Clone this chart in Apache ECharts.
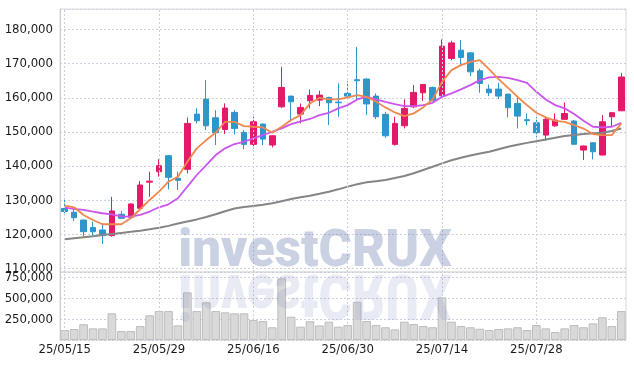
<!DOCTYPE html>
<html><head><meta charset="utf-8">
<script src="https://cdn.jsdelivr.net/npm/echarts@6/dist/echarts.min.js"></script>
<style>html,body{margin:0;padding:0;background:#fff}#c{width:634px;height:366px}</style>
</head><body><div id="c"></div>
<script>
const dates = ['25/05/15','25/05/16','25/05/19','25/05/20','25/05/21','25/05/22','25/05/23','25/05/26','25/05/27','25/05/28',
'25/05/29','25/05/30','25/06/02','25/06/04','25/06/05','25/06/09','25/06/10','25/06/11','25/06/12','25/06/13',
'25/06/16','25/06/17','25/06/18','25/06/19','25/06/20','25/06/23','25/06/24','25/06/25','25/06/26','25/06/27',
'25/06/30','25/07/01','25/07/02','25/07/03','25/07/04','25/07/07','25/07/08','25/07/09','25/07/10','25/07/11',
'25/07/14','25/07/15','25/07/16','25/07/17','25/07/18','25/07/21','25/07/22','25/07/23','25/07/24','25/07/25',
'25/07/28','25/07/29','25/07/30','25/07/31','25/08/01','25/08/04','25/08/05','25/08/06','25/08/07','25/08/08'];
const labelDates = ['25/05/15','25/05/29','25/06/16','25/06/30','25/07/14','25/07/28'];
// [open, close, low, high]
const ohlc = [
[127600,126700,126200,130700],[126500,124900,123950,127950],[124200,120800,119400,124300],[122000,120800,119850,123700],[121300,119650,117200,123300],
[119650,126870,119350,131000],[125900,124730,124530,126870],[125030,128920,124500,129100],[127660,134470,127600,135640],[135300,135600,131040,138360],
[138360,140120,136900,142000],[143040,136720,133220,143200],[136430,135840,133010,138360],[139060,152510,137890,154270],[155230,153270,152500,156900],
[159620,151810,150560,165180],[154150,149770,146170,156400],[150750,156990,149380,158360],[155720,151040,149290,156400],[149870,146370,144910,150560],
[146370,152980,145200,154450],[152300,147920,146170,152510],[146170,148890,145480,149000],[157370,163040,157000,169060],[160500,158830,152980,160600],
[155230,157190,152510,158360],[159130,160700,156900,162460],[159330,160790,157570,162080],[160110,158540,152020,160300],[158740,158540,154450,164210],
[161290,160500,159800,164880],[165300,165000,159300,174900],[165500,158200,154940,165700],[160500,154450,153760,161290],[155150,148890,148300,155910],
[146370,152510,146000,154450],[151810,156900,151040,159520],[157370,161580,157000,163720],[161480,163920,159030,164000],[163040,159130,159000,163300],
[160590,175110,160300,177080],[171520,176080,171000,176700],[173950,171810,169560,176870],[173160,167600,166340,173300],[167900,164210,161480,168500],
[162550,161480,160500,163900],[162550,160500,159620,164300],[161080,157080,154270,161200],[158360,154650,151040,160300],[153600,153300,152000,155400],
[152700,149770,148420,154450],[149090,153700,147420,154450],[151800,153500,151500,155440],[153700,155400,153600,158650],[153200,146400,146300,153500],
[144700,145900,141790,146000],[146840,144200,141980,147000],[143240,152980,143200,154940],[154450,155640,151520,155700],[156200,166100,156100,167310]];
const ma5 = [128420,127950,125700,124240,122980,122980,122980,124730,127370,130090,
132520,135440,136900,141290,145200,147630,149770,152980,152980,151720,
151520,151350,149770,151520,153480,154940,158360,160000,159520,159520,
160110,160790,160290,158830,157190,155720,154650,155440,157190,159520,
164680,168100,169560,170530,171030,168300,165470,162930,160290,157860,
155610,154270,153270,152980,152020,151000,149380,149090,149090,152510];
const ma20 = [127840,127450,127160,126670,126200,125900,125300,125200,125700,126700,
127950,128830,130580,133980,137400,140320,143240,145200,146460,147130,
148130,149090,150060,151040,152300,153100,153800,154940,155610,156900,
157860,159520,160290,159520,158830,158160,157570,157570,157860,158540,
160290,161290,162460,163720,165180,165960,166140,165850,165180,164390,
161760,159520,157860,156900,155230,153270,151520,151350,151520,152690];
const ma60 = [118600,118900,119200,119500,119800,120150,120450,120750,121100,121500,
121950,122500,123200,123800,124400,125100,125900,126800,127600,128000,
128350,128700,129100,129700,130400,130900,131350,131900,132500,133200,
134000,134700,135250,135600,135950,136500,137100,137900,138850,139800,
140800,141700,142450,143100,143700,144200,144950,145650,146250,146800,
147300,147800,148300,148800,149100,149400,149600,149800,150300,151000];
const volume = [120000,132000,189000,140000,140000,321000,108000,108000,168000,297000,
348000,348000,176000,573000,348000,453000,348000,333000,321000,321000,
240000,228000,153000,742000,280000,160000,225000,175000,220000,160000,
180000,460000,228000,180000,153000,128000,220000,192000,168000,153000,
513000,220000,168000,153000,136000,120000,132000,140000,153000,120000,
180000,140000,96000,140000,180000,153000,200000,273000,168000,348000];

const FONT = "'DejaVu Sans Condensed', 'DejaVu Sans', sans-serif";
const gridLine = {show:true, lineStyle:{color:'#cfcfe0', type:[2,2], width:1}};
const vLines = {symbol:'none', silent:true, label:{show:false},
  lineStyle:{color:'#cfcfe0', type:[2,2], width:1},
  data: labelDates.map(d=>({xAxis:d}))};

const chart = echarts.init(document.getElementById('c'), null, {renderer:'canvas'});
chart.setOption({
  animation:false,
  grid:[
    {left:60, top:9, width:566, height:263, show:true, borderColor:'#d8d8d8', borderWidth:1, containLabel:false},
    {left:60, top:272, width:566, height:68, show:true, borderColor:'#d8d8d8', borderWidth:1, containLabel:false}
  ],
  xAxis:[
    {type:'category', gridIndex:0, data:dates, boundaryGap:true,
     axisLine:{show:false}, axisTick:{show:false}, axisLabel:{show:false}, splitLine:{show:false}},
    {type:'category', gridIndex:1, data:dates, boundaryGap:true,
     axisLine:{show:false}, axisTick:{show:false}, splitLine:{show:false},
     axisLabel:{show:true, interval:9, margin:3, color:'#1a1a1a', fontFamily:FONT, fontSize:13}}
  ],
  yAxis:[
    {type:'value', gridIndex:0, min:109000, max:186000, splitNumber:8,
     axisLine:{show:true, lineStyle:{color:'#cccccc'}}, axisTick:{show:false},
     axisLabel:{color:'#1a1a1a', fontFamily:FONT, fontSize:13, margin:7, showMinLabel:false, showMaxLabel:false,
       formatter:v=>v.toLocaleString('en-US')},
     splitLine:gridLine},
    {type:'value', gridIndex:1, min:0, max:818000, interval:250000,
     axisLine:{show:true, lineStyle:{color:'#cccccc'}}, axisTick:{show:false},
     axisLabel:{color:'#1a1a1a', fontFamily:FONT, fontSize:13, margin:7, showMinLabel:false, showMaxLabel:false},
     splitLine:gridLine}
  ],
  series:[
    {type:'candlestick', xAxisIndex:0, yAxisIndex:0, data:ohlc, barWidth:6,
     itemStyle:{color:'#e3196a', color0:'#2e96c8', borderColor:'#e3196a', borderColor0:'#2e96c8', borderWidth:1},
     markLine:vLines, z:3},
    {type:'line', xAxisIndex:0, yAxisIndex:0, data:ma60, symbol:'none', smooth:false,
     lineStyle:{color:'#858585', width:2}, z:4},
    {type:'line', xAxisIndex:0, yAxisIndex:0, data:ma20, symbol:'none',
     lineStyle:{color:'#cc55ee', width:1.8}, z:4},
    {type:'line', xAxisIndex:0, yAxisIndex:0, data:ma5, symbol:'none',
     lineStyle:{color:'#f0884e', width:1.8}, z:5},
    {type:'bar', xAxisIndex:1, yAxisIndex:1, data:volume, barCategoryGap:'8%',
     itemStyle:{color:'#d9d9d9', borderColor:'#bdbdbd', borderWidth:1},
     markLine:vLines, z:2}
  ],
  graphic:[
    {type:'text', z:100, silent:true, x:315, y:269,
     style:{text:'investCRUX', font:"900 51px Roboto", fill:'rgba(110,130,180,0.37)', x:0, y:10, align:'center', verticalAlign:'bottom'}},
    {type:'text', z:100, silent:true, x:315, y:272, scaleY:-1.22,
     style:{text:'investCRUX', font:"900 51px Roboto", fill:'rgba(110,130,180,0.16)', x:0, y:10, align:'center', verticalAlign:'bottom'}}
  ]
});
</script></body></html>
